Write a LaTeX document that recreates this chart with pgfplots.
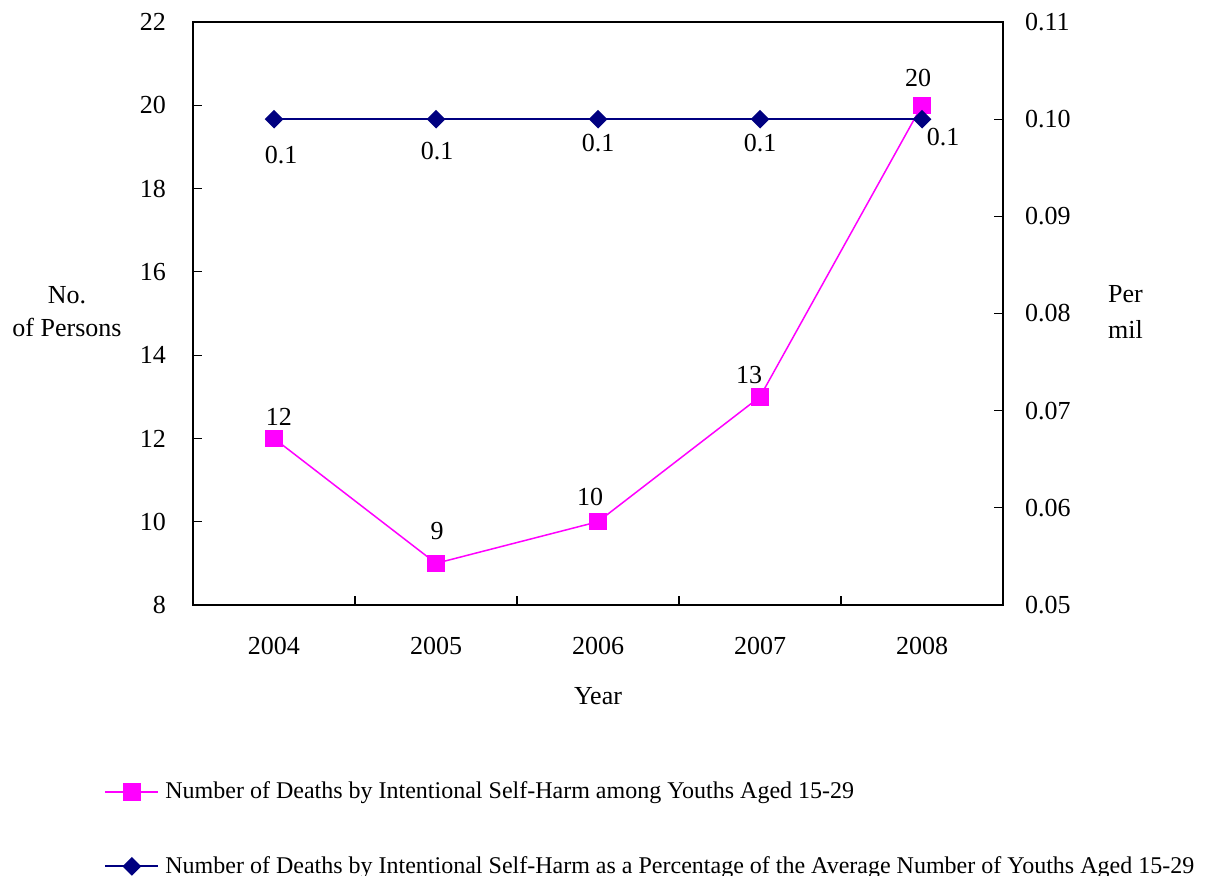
\documentclass[border=0pt]{standalone}
\usepackage{fontspec}
\setmainfont{Liberation Serif}
\usepackage{pgfplots}
\pgfplotsset{compat=1.18}
\usepackage{pgfplotstable}

\definecolor{pinkline}{RGB}{255,0,255}
\definecolor{navyline}{RGB}{0,0,128}

% x = year index (2004 = 0), dx/dy = label offset in pt
\pgfplotstableread{
x y dx dy lab
0 12 2.5 11 12
1 9 0.5 16 9
2 10 -4 12.5 10
3 13 -5.5 11 13
4 20 -2 13.5 20
}\deaths
\pgfplotstableread{
x y dx dy lab
0 0.1 3.5 -18 0.1
1 0.1 0.5 -16 0.1
2 0.1 0 -12 0.1
3 0.1 0 -12 0.1
4 0.1 10.5 -9 0.1
}\rate

\newcommand{\chartfont}{\fontsize{13}{15}\selectfont}
\newcommand{\legfont}{\fontsize{12}{14}\selectfont}

\pgfplotsset{
  base/.style={
    scale only axis, width=405pt, height=291.5pt,
    xmin=-0.5, xmax=4.5,
    tick align=inside, major tick length=4.5pt,
    axis line style={line width=0.7pt},
    tick style={line width=0.6pt, black},
    /pgf/number format/assume math mode=true,
    tick label style={font=\chartfont},
    label style={font=\chartfont},
  }
}

\begin{document}
\begin{tikzpicture}
\begin{axis}[base,
  ymin=8, ymax=22, ytick={8,10,...,22}, ytick pos=left,
  yticklabel style={xshift=-10pt},
  xtick={0.5,1.5,2.5,3.5}, xticklabels={}, xtick pos=bottom,
  xticklabel style={yshift=-12.5pt},
  extra x ticks={0,1,2,3,4},
  extra x tick labels={2004,2005,2006,2007,2008},
  extra x tick style={major tick length=0pt},
  xlabel={Year},
  xlabel style={at={(axis description cs:0.5,-0.156)}, anchor=center},
  ylabel={No.\\[1.5pt]of Persons},
  ylabel style={rotate=-90, align=center, at={(axis description cs:-0.1556,0.5026)}, anchor=center},
]
\addplot[pinkline, line width=0.75pt, mark=square*, mark size=4pt,
  nodes near coords, point meta=explicit symbolic,
  visualization depends on={\thisrow{dx}\as\lx},
  visualization depends on={\thisrow{dy}\as\ly},
  nodes near coords style={anchor=center, xshift=\lx pt, yshift=\ly pt, font=\chartfont, text=black}]
  table[x=x, y=y, meta=lab] {\deaths};
\end{axis}
\begin{axis}[base,
  axis x line=none, axis y line*=right,
  ymin=0.05, ymax=0.11, ytick={0.05,0.06,0.07,0.08,0.09,0.10,0.11},
  yticklabel style={xshift=7.5pt, /pgf/number format/.cd, fixed, fixed zerofill, precision=2},
  ylabel={Per\\[3pt]mil},
  ylabel style={rotate=-90, align=left, at={(axis description cs:1.121,0.5026)}, anchor=west},
  legend style={draw=none, fill=none, font=\legfont, inner sep=0pt,
    at={(axis description cs:-0.1099,-0.2955)}, anchor=north west,
    row sep=23.4pt, column sep=1pt, cells={anchor=west}, nodes={inner sep=2pt}},
  legend image code/.code={\draw[mark repeat=2, mark phase=2, #1] plot coordinates {(0pt,0pt) (13.25pt,0pt) (26.5pt,0pt)};},
]
\addlegendimage{pinkline, line width=1pt, mark=square*, mark size=4pt}
\addlegendentry{Number of Deaths by Intentional Self-Harm among Youths Aged 15-29}
\addplot[navyline, line width=1pt, mark=square*, mark size=2.8pt, mark options={rotate=45},
  nodes near coords, point meta=explicit symbolic,
  visualization depends on={\thisrow{dx}\as\lx},
  visualization depends on={\thisrow{dy}\as\ly},
  nodes near coords style={anchor=center, xshift=\lx pt, yshift=\ly pt, font=\chartfont, text=black}]
  table[x=x, y=y, meta=lab] {\rate};
\addlegendentry{Number of Deaths by Intentional Self-Harm as a Percentage of the Average Number of Youths Aged 15-29}
\end{axis}
\pgfresetboundingbox
\path[use as bounding box] (-96.5pt,-135.5pt) rectangle (507.5pt,302.5pt);
\end{tikzpicture}
\end{document}
